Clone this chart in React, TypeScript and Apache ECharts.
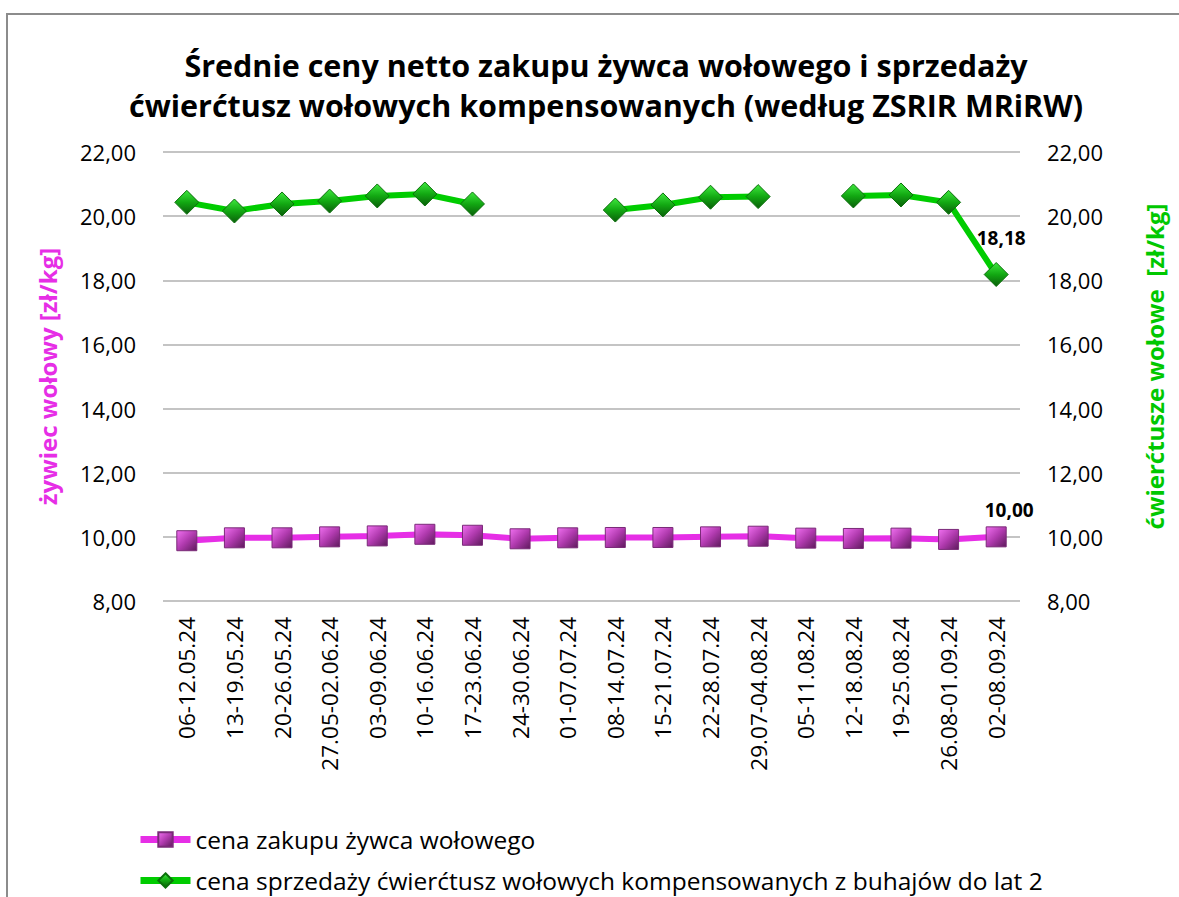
import React, { useEffect, useRef } from "react";
import * as echarts from "echarts";

const categories = [
  "06-12.05.24", "13-19.05.24", "20-26.05.24", "27.05-02.06.24", "03-09.06.24",
  "10-16.06.24", "17-23.06.24", "24-30.06.24", "01-07.07.24", "08-14.07.24",
  "15-21.07.24", "22-28.07.24", "29.07-04.08.24", "05-11.08.24", "12-18.08.24",
  "19-25.08.24", "26.08-01.09.24", "02-08.09.24",
];

const liveCattle = [
  9.88, 9.97, 9.97, 10.0, 10.03, 10.08, 10.05, 9.94, 9.97, 9.98,
  9.98, 10.0, 10.02, 9.96, 9.95, 9.96, 9.92, 10.0,
];

const quarters: (number | null)[] = [
  20.43, 20.16, 20.38, 20.47, 20.63, 20.69, 20.38, null, null, 20.19,
  20.35, 20.59, 20.61, null, 20.63, 20.66, 20.43, 18.18,
];

const seriesNames = [
  "cena zakupu żywca wołowego",
  "cena sprzedaży ćwierćtusz wołowych kompensowanych z buhajów do lat 2",
];

const FONT = "'Open Sans', 'Noto Sans', sans-serif";
const fmt = (v: number) => v.toFixed(2).replace(".", ",");

export default function App() {
  const ref = useRef<HTMLDivElement>(null);
  useEffect(() => {
    document.body.style.margin = "0";
    const chart = echarts.init(ref.current!, null, { renderer: "svg" });
    const lastLabel = (arr: (number | null)[], offset: number[]) =>
      arr.map((v, i) =>
        i === arr.length - 1
          ? {
              value: v,
              label: {
                show: true,
                position: "top",
                offset,
                formatter: (p: any) => fmt(p.value),
                fontFamily: FONT,
                fontWeight: "bold",
                fontSize: 19,
                color: "#000",
              },
            }
          : v
      );
    const yAxisBase = {
      type: "value",
      min: 8,
      max: 22,
      interval: 2,
      axisLine: { show: false },
      axisTick: { show: false },
      nameLocation: "middle",
      nameRotate: 90,
      nameTextStyle: { fontFamily: FONT, fontWeight: "bold", fontSize: 24 },
      axisLabel: {
        formatter: (v: number) => fmt(v),
        fontFamily: FONT,
        fontSize: 22,
        color: "#000",
        margin: 27,
      },
    };
    const legendBase = {
      left: 137,
      padding: 0,
      itemWidth: 50,
      itemHeight: 18,
      lineStyle: { width: 7 },
      textStyle: { fontFamily: FONT, fontSize: 24.5, color: "#000" },
    };
    chart.setOption({
      animation: false,
      backgroundColor: "#fff",
      title: {
        text: "Średnie ceny netto zakupu żywca wołowego i sprzedaży\nćwierćtusz wołowych kompensowanych (według ZSRIR MRiRW)",
        left: 601,
        top: 40,
        textAlign: "center",
        textStyle: {
          fontFamily: FONT,
          fontWeight: "bold",
          fontSize: 30.5,
          lineHeight: 40,
          color: "#000",
        },
      },
      graphic: [
        {
          type: "rect",
          shape: { x: 7, y: 14, width: 1250, height: 950 },
          style: { fill: "none", stroke: "#8c8c8c", lineWidth: 2 },
          silent: true,
        },
      ],
      grid: { left: 163, right: 159, top: 152, bottom: 296 },
      legend: [
        { ...legendBase, top: 827, data: [seriesNames[0]] },
        { ...legendBase, top: 868, data: [seriesNames[1]] },
      ],
      xAxis: {
        type: "category",
        data: categories,
        boundaryGap: true,
        axisLine: { show: false },
        axisTick: { show: false },
        axisLabel: {
          rotate: 90,
          interval: 0,
          fontFamily: FONT,
          fontSize: 22.5,
          color: "#000",
          margin: 16,
        },
      },
      yAxis: [
        {
          ...yAxisBase,
          position: "left",
          name: "żywiec wołowy [zł/kg]",
          nameGap: 104,
          nameTextStyle: { ...yAxisBase.nameTextStyle, color: "#E62EE6" },
          splitLine: { show: true, lineStyle: { color: "#c4c4c4", width: 2 } },
        },
        {
          ...yAxisBase,
          position: "right",
          name: "ćwierćtusze wołowe  [zł/kg]",
          nameGap: 122,
          nameRotate: 90,
          nameTextStyle: { ...yAxisBase.nameTextStyle, color: "#00C800", padding: [0, 0, 0, 20] },
          splitLine: { show: false },
        },
      ],
      series: [
        {
          name: seriesNames[0],
          type: "line",
          yAxisIndex: 0,
          data: lastLabel(liveCattle, [13, -2]),
          symbol: "rect",
          symbolSize: 20,
          lineStyle: { color: "#E62EE6", width: 6 },
          itemStyle: {
            color: new echarts.graphic.LinearGradient(0, 0, 1, 1, [
              { offset: 0, color: "#F070F0" },
              { offset: 0.5, color: "#B03AAE" },
              { offset: 1, color: "#5E1A5C" },
            ]),
            borderColor: "#7a2a78",
            borderWidth: 1,
          },
          z: 3,
        },
        {
          name: seriesNames[1],
          type: "line",
          yAxisIndex: 1,
          connectNulls: false,
          data: lastLabel(quarters, [5, -10]),
          symbol: "diamond",
          symbolSize: 24,
          lineStyle: { color: "#00CC00", width: 6 },
          itemStyle: {
            color: new echarts.graphic.LinearGradient(0, 0, 0, 1, [
              { offset: 0, color: "#3EE83E" },
              { offset: 0.5, color: "#12A812" },
              { offset: 1, color: "#0A5E0A" },
            ]),
            borderColor: "#0b700b",
            borderWidth: 1,
          },
          z: 4,
        },
      ],
    });
    return () => chart.dispose();
  }, []);
  return (
    <div
      ref={ref}
      style={{ position: "fixed", left: 0, top: 0, width: 1179, height: 897 }}
    />
  );
}
